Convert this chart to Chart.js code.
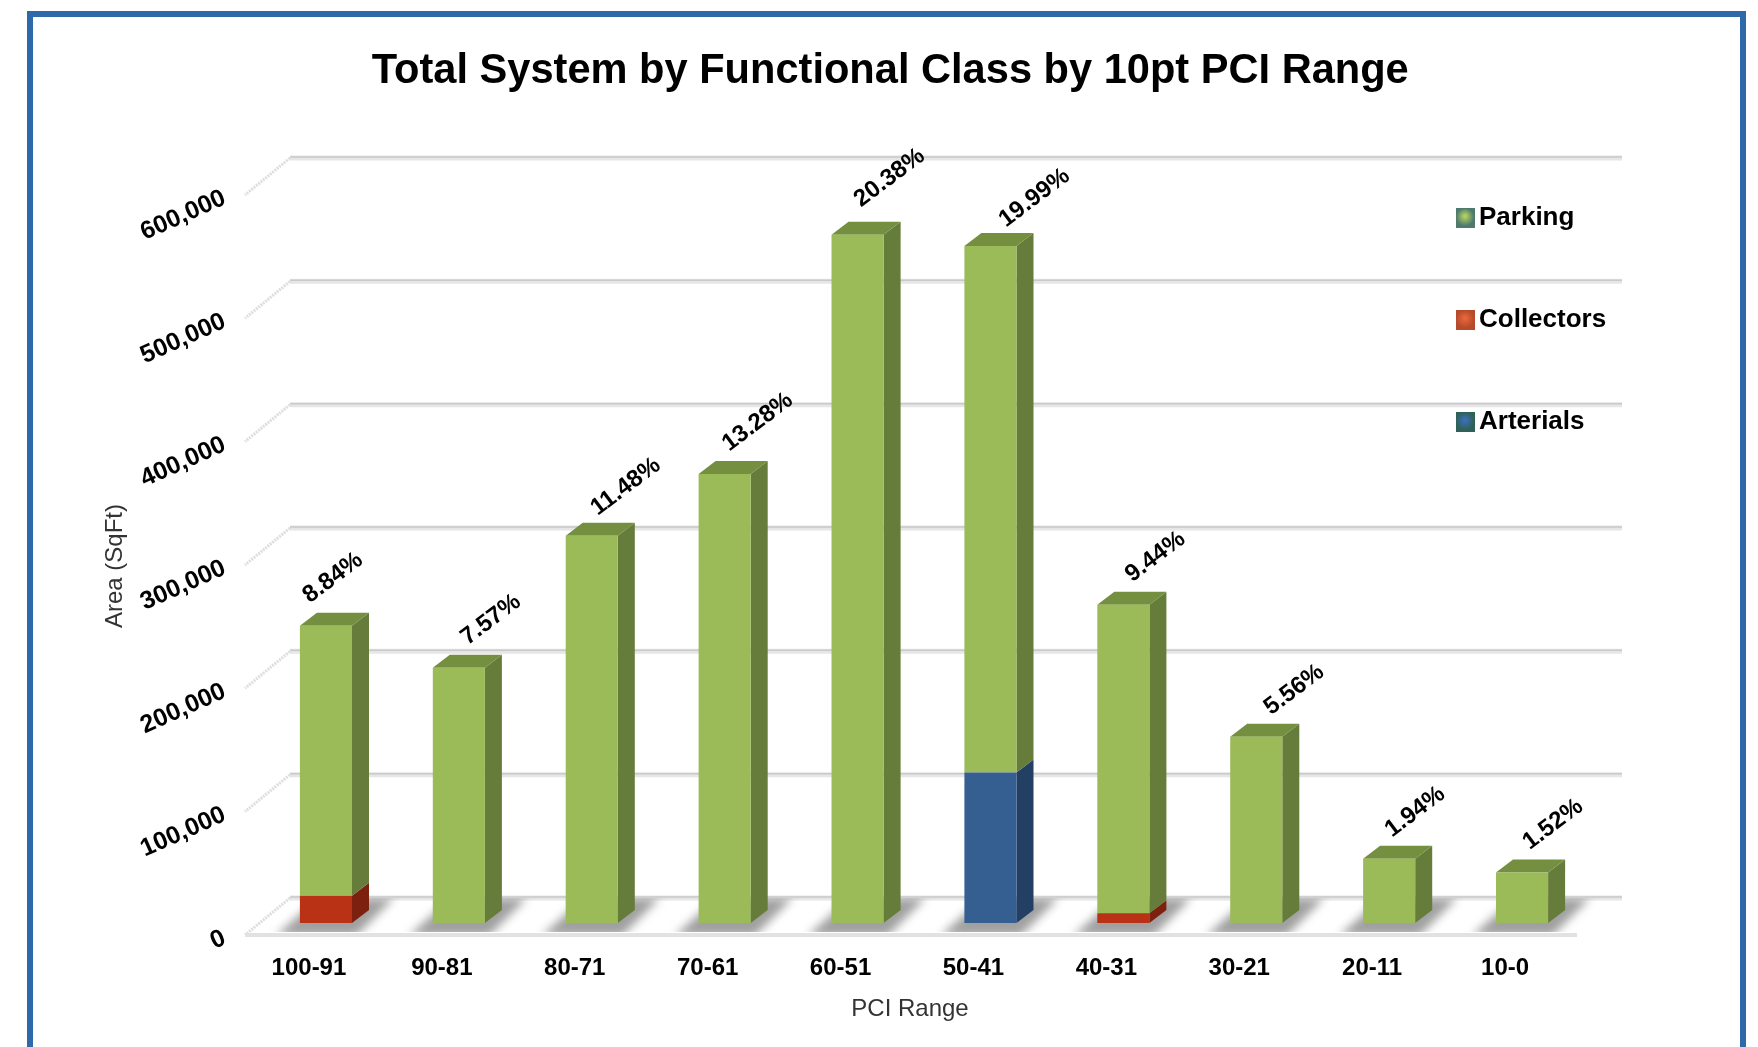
<!DOCTYPE html>
<html>
<head>
<meta charset="utf-8">
<title>Total System by Functional Class by 10pt PCI Range</title>
<style>
  html, body { margin: 0; padding: 0; background: #fff; }
  canvas { display: block; }
</style>
<script src="https://cdn.jsdelivr.net/npm/chart.js@4/dist/chart.umd.min.js"></script>
</head>
<body>
<canvas id="chart_pciRange" width="1758" height="1047"></canvas>
<script>
// values
var pciRanges = ['100-91', '90-81', '80-71', '70-61', '60-51', '50-41', '40-31', '30-21', '20-11', '10-0'];
var arterials = [0, 0, 0, 0, 0, 122000, 0, 0, 0, 0];
var collectors = [22000, 0, 0, 0, 0, 0, 8000, 0, 0, 0];
var parking = [219000, 207000, 314000, 364000, 558000, 427000, 250000, 151000, 52000, 41000];
var percentLabels = ['8.84%', '7.57%', '11.48%', '13.28%', '20.38%', '19.99%', '9.44%', '5.56%', '1.94%', '1.52%'];
var yTickStep = 100000;
var yMax = 600000;

// label nudges per bar, the source places them by hand
var percentNudgeX = [7, 32, 34, 33, 32, 44, 32, 38, 26, 31];
var percentNudgeY = [-48, -48, -49, -52, -57, -48, -48, -47, -47, -48];

var FONT = '"Liberation Sans", Arial, sans-serif';
var BAR_DEPTH_X = 17, BAR_DEPTH_Y = 13;
var WALL_UP = 25, FLOOR_DOWN = 12, STUB_X = 45, STUB_Y = 37;

var palette = [
    { front: '#355f91', side: '#233f63', top: '#2c4f7a', iconIn: '#3a6fb8', iconOut: '#2f6158' },
    { front: '#ba3216', side: '#7e2010', top: '#96280f', iconIn: '#e8663a', iconOut: '#b54a2c' },
    { front: '#9bbb59', side: '#667c3a', top: '#748f40', iconIn: '#b4d060', iconOut: '#4d7a6c' }
];

function legendIcon(style) {
    var c = document.createElement('canvas');
    c.width = 19;
    c.height = 20;
    var g = c.getContext('2d');
    g.fillStyle = style.iconOut;
    g.fillRect(0, 0, 19, 20);
    var grad = g.createRadialGradient(9.5, 8, 1, 9.5, 9, 9);
    grad.addColorStop(0, style.iconIn);
    grad.addColorStop(1, style.iconOut);
    g.fillStyle = grad;
    g.fillRect(1, 1, 17, 18);
    return c;
}

function face(ctx, pts, color) {
    ctx.fillStyle = color;
    ctx.beginPath();
    pts.forEach(function(p, i) { i ? ctx.lineTo(p[0], p[1]) : ctx.moveTo(p[0], p[1]); });
    ctx.closePath();
    ctx.fill();
}

function nudgeTitle(chart, scale, dx, dy) {
    var orig = scale.drawTitle;
    scale.drawTitle = function() {
        chart.ctx.save();
        chart.ctx.translate(dx, dy);
        orig.call(scale);
        chart.ctx.restore();
    };
}

var fake3d = {
    id: 'fake3d',
    beforeDraw: function(chart) {
        var ctx = chart.ctx;
        ctx.save();
        ctx.fillStyle = 'white';
        ctx.fillRect(0, 0, chart.width, chart.height);
        // page frame
        ctx.strokeStyle = '#3069a9';
        ctx.lineWidth = 6;
        ctx.strokeRect(30, 14, 1713, 1100);
        ctx.restore();

        if (!chart.$placed) {
            chart.$placed = true;
            chart.titleBlock.left += 96;
            chart.titleBlock.right += 96;
            chart.legend.left = 1388;
            chart.legend.top = 129;
            chart.legend.right = 1758;
            chart.legend.bottom = 1047;
            chart.scales.y.getLabelItems().forEach(function(item) {
                item.options.translation[1] += 14;
            });
            chart.scales.x.getLabelItems().forEach(function(item) {
                item.options.translation[0] -= 17;
            });
            nudgeTitle(chart, chart.scales.y, 1, 13);
            nudgeTitle(chart, chart.scales.x, -14, -23);
        }
    },
    beforeDatasetsDraw: function(chart) {
        var ctx = chart.ctx, x = chart.scales.x, y = chart.scales.y;
        var wallLeft = x.left + 30.5, wallRight = x.right + 33.5;
        ctx.save();

        // back wall lines and the stubs running down to the axis
        y.ticks.forEach(function(t) {
            var py = y.getPixelForValue(t.value) - WALL_UP;
            ctx.strokeStyle = '#e6e6e6';
            ctx.lineWidth = 5;
            ctx.beginPath();
            ctx.moveTo(wallLeft, py);
            ctx.lineTo(wallRight, py);
            ctx.stroke();
            ctx.strokeStyle = '#c9c9c9';
            ctx.lineWidth = 1.5;
            ctx.beginPath();
            ctx.moveTo(wallLeft, py - 1);
            ctx.lineTo(wallRight, py - 1);
            ctx.stroke();
            ctx.strokeStyle = '#dedede';
            ctx.lineWidth = 3;
            ctx.setLineDash([2, 1]);
            ctx.beginPath();
            ctx.moveTo(wallLeft, py);
            ctx.lineTo(wallLeft - STUB_X, py + STUB_Y);
            ctx.stroke();
            ctx.setLineDash([]);
        });

        // floor front edge
        var floorY = y.getPixelForValue(0) + FLOOR_DOWN;
        ctx.strokeStyle = '#e2e2e2';
        ctx.lineWidth = 4;
        ctx.beginPath();
        ctx.moveTo(wallLeft - STUB_X, floorY);
        ctx.lineTo(wallRight - STUB_X, floorY);
        ctx.stroke();

        // shadows on the floor
        var base = y.getPixelForValue(0);
        ctx.save();
        ctx.beginPath();
        ctx.rect(x.left - 20, base - WALL_UP, x.width + 60, WALL_UP + FLOOR_DOWN - 3);
        ctx.clip();
        ctx.filter = 'blur(5px)';
        chart.getDatasetMeta(0).data.forEach(function(bar) {
            var l = bar.x - bar.width / 2, r = bar.x + bar.width / 2;
            face(ctx, [[l - 24, base + 13], [r + 4, base + 13], [r + 42, base - WALL_UP], [l + 18, base - WALL_UP]], '#a0a0a0');
        });
        ctx.restore();

        // side faces, and the top face on the uppermost piece
        chart.data.datasets.forEach(function(ds, d) {
            chart.getDatasetMeta(d).data.forEach(function(bar, i) {
                if (!ds.data[i]) return;
                var r = bar.x + bar.width / 2, l = bar.x - bar.width / 2;
                var top = Math.min(bar.y, bar.base), bot = Math.max(bar.y, bar.base);
                face(ctx, [[r, top], [r + BAR_DEPTH_X, top - BAR_DEPTH_Y], [r + BAR_DEPTH_X, bot - BAR_DEPTH_Y], [r, bot]], palette[d].side);
                if (d === chart.data.datasets.length - 1) {
                    face(ctx, [[l, top], [l + BAR_DEPTH_X, top - BAR_DEPTH_Y], [r + BAR_DEPTH_X, top - BAR_DEPTH_Y], [r, top]], palette[d].top);
                }
            });
        });
        ctx.restore();
    },
    afterDatasetsDraw: function(chart) {
        var ctx = chart.ctx;
        var last = chart.data.datasets.length - 1;
        ctx.save();
        ctx.fillStyle = '#000';
        ctx.font = 'bold 24px ' + FONT;
        ctx.textAlign = 'center';
        ctx.textBaseline = 'middle';
        chart.getDatasetMeta(last).data.forEach(function(bar, i) {
            ctx.save();
            ctx.translate(bar.x + percentNudgeX[i], bar.y + percentNudgeY[i]);
            ctx.rotate(-37 * Math.PI / 180);
            ctx.fillText(percentLabels[i], 0, 0);
            ctx.restore();
        });
        ctx.restore();
    }
};

var chart_pciRange = new Chart(document.getElementById('chart_pciRange'), {
    type: 'bar',
    data: {
        labels: pciRanges,
        datasets: [
            { label: 'Arterials', data: arterials, backgroundColor: palette[0].front },
            { label: 'Collectors', data: collectors, backgroundColor: palette[1].front },
            { label: 'Parking', data: parking, backgroundColor: palette[2].front }
        ]
    },
    options: {
        animation: false,
        responsive: false,
        barPercentage: 0.392,
        categoryPercentage: 1,
        layout: { padding: { left: 0, right: 169.5, top: 0, bottom: 0 } },
        plugins: {
            title: {
                display: true,
                text: 'Total System by Functional Class by 10pt PCI Range',
                color: '#000',
                font: { family: FONT, size: 41.6, weight: 'bold', lineHeight: 1.25 },
                padding: { top: 46, bottom: 85 }
            },
            legend: {
                display: true,
                position: 'chartArea',
                align: 'start',
                labels: {
                    color: '#000',
                    font: { family: FONT, size: 26, weight: 'bold' },
                    padding: 76,
                    usePointStyle: true,
                    pointStyleWidth: 2,
                    generateLabels: function(chart) {
                        return Chart.defaults.plugins.legend.labels.generateLabels(chart).map(function(item) {
                            item.pointStyle = legendIcon(palette[item.datasetIndex]);
                            return item;
                        }).reverse();
                    }
                }
            },
            tooltip: { enabled: false }
        },
        scales: {
            x: {
                stacked: true,
                grid: { display: false },
                border: { display: false },
                ticks: {
                    color: '#000',
                    padding: 23,
                    maxRotation: 0,
                    font: { family: FONT, size: 24, weight: 'bold' }
                },
                title: {
                    display: true,
                    text: 'PCI Range',
                    color: '#333',
                    font: { family: FONT, size: 24 },
                    padding: { top: 49, bottom: 0 }
                },
                afterFit: function(scale) { scale.height = 124; }
            },
            y: {
                stacked: true,
                min: 0,
                max: yMax,
                grid: { display: false, drawTicks: false },
                border: { display: false },
                ticks: {
                    stepSize: yTickStep,
                    color: '#000',
                    padding: 35,
                    minRotation: 24,
                    font: { family: FONT, size: 25, weight: 'bold' }
                },
                title: {
                    display: true,
                    text: 'Area (SqFt)',
                    color: '#333',
                    font: { family: FONT, size: 24 },
                    padding: { top: 100, bottom: 0 }
                },
                afterFit: function(scale) { scale.width = 259.5; }
            }
        }
    },
    plugins: [fake3d]
});
</script>
</body>
</html>
